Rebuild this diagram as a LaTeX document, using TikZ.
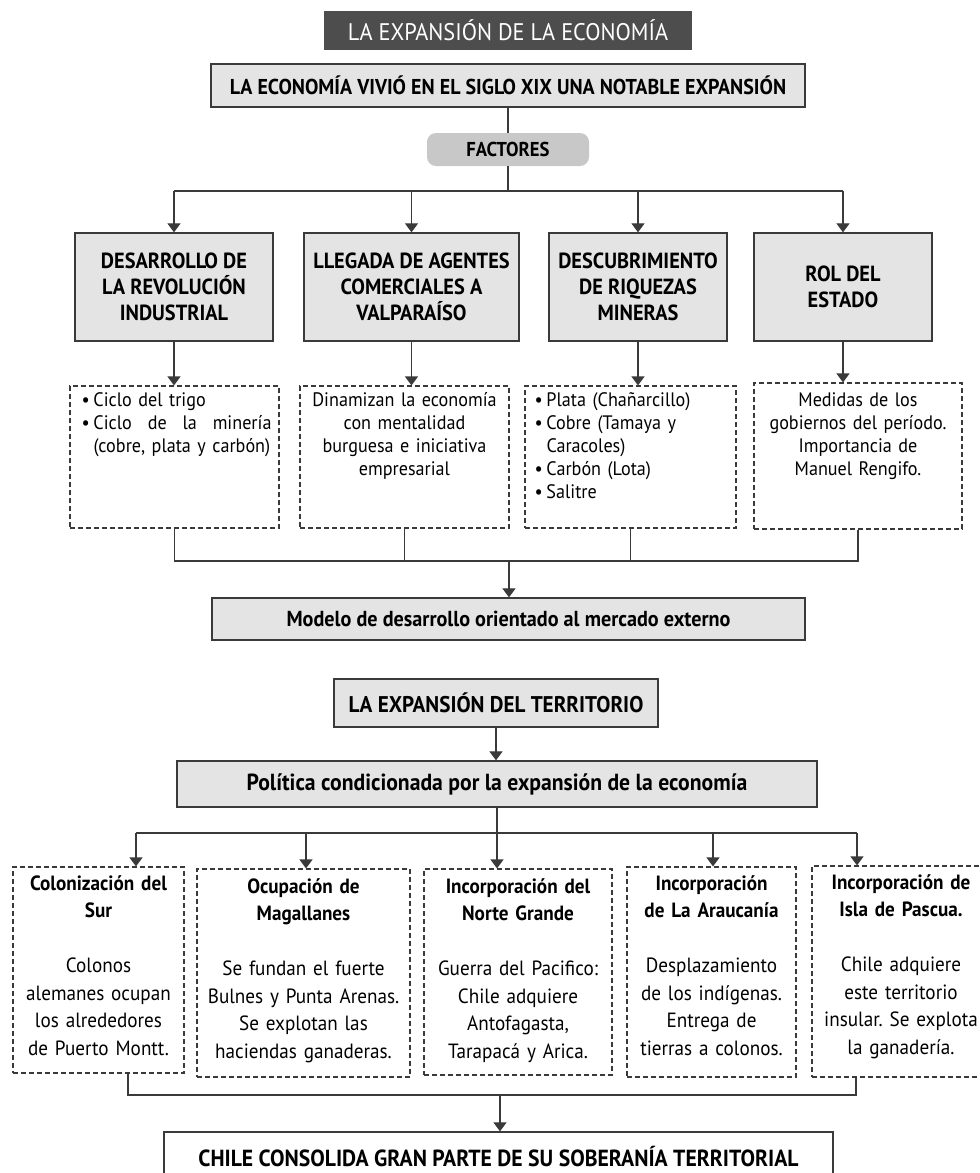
\documentclass[tikz,border=0pt]{standalone}
\usepackage{fontspec}
\setmainfont[FakeStretch=0.93]{PT Sans}
\usetikzlibrary{arrows.meta}
\definecolor{linec}{HTML}{3A3A3A}
\definecolor{titlefill}{HTML}{4D4D4D}
\definecolor{boxgray}{HTML}{E4E4E4}
\definecolor{factgray}{HTML}{C8C8C8}
\newcommand\bul{\makebox[12pt][l]{•}}
\frenchspacing
\begin{document}
\begin{tikzpicture}[x=1pt,y=-1pt,
  lc/.style={draw=linec, line width=1.2pt},
  arr/.style={draw=linec, line width=1.2pt, -{Triangle[width=13pt,length=9pt]}},
  gbox/.style={draw=linec, line width=1.3pt, fill=boxgray, inner sep=0pt, align=center, text=black},
  dbox/.style={draw=linec, line width=1.15pt, dash pattern=on 5pt off 3pt, inner sep=0pt},
  ftxt/.style={font=\bfseries\fontsize{21.9}{26}\selectfont},
  dtxt/.style={inner sep=0pt, anchor=north, font=\fontsize{19.5}{23}\selectfont},
  btxt/.style={inner sep=0pt, anchor=north, align=center, font=\fontsize{20.6}{27.5}\selectfont}
]
\useasboundingbox (0,0) rectangle (980,1173);
\fill[white] (0,0) rectangle (980,1173);

% ---------- economy ----------
\node[fill=titlefill, minimum width=368pt, minimum height=39pt, inner sep=0pt, text=white,
      font=\fontsize{24}{28}\selectfont] (title) at (508,30.5) {LA EXPANSIÓN DE LA ECONOMÍA};
\node[gbox, minimum width=594pt, minimum height=43pt, font=\bfseries\fontsize{21.5}{25}\selectfont]
      (econ) at (508,85.5) {LA ECONOMÍA VIVIÓ EN EL SIGLO XIX UNA NOTABLE EXPANSIÓN};
\node[fill=factgray, rounded corners=9pt, minimum width=162pt, minimum height=33pt, inner sep=0pt,
      font=\bfseries\fontsize{20.1}{24}\selectfont] (fact) at (508,149.5) {FACTORES};
\coordinate (h0) at (508,191);

\node[gbox, ftxt, minimum width=198pt, minimum height=108pt] (f1) at (174,287) {DESARROLLO DE\\LA REVOLUCIÓN\\INDUSTRIAL};
\node[gbox, ftxt, minimum width=215pt, minimum height=108pt] (f2) at (411.5,287) {LLEGADA DE AGENTES\\COMERCIALES A\\VALPARAÍSO};
\node[gbox, ftxt, minimum width=178pt, minimum height=108pt] (f3) at (638,287) {DESCUBRIMIENTO\\DE RIQUEZAS\\MINERAS};
\node[gbox, ftxt, minimum width=178pt, minimum height=108pt] (f4) at (843,287) {ROL DEL\\ESTADO};

\node[dbox, minimum width=209pt, minimum height=142pt] (d1) at (174.5,457) {};
\node[dbox, minimum width=209pt, minimum height=142pt] (d2) at (404.5,457) {};
\node[dbox, minimum width=211pt, minimum height=142pt] (d3) at (630.5,457) {};
\node[dbox, minimum width=208pt, minimum height=146pt] (d4) at (858,456) {};

\node[dtxt, text width=190pt, align=left] (t1) at ([xshift=2pt,yshift=-7pt]d1.north)
  {\bul Ciclo del trigo\\
   \bul Ciclo\hfill de\hfill la\hfill minería\\
   \hspace*{12pt}(cobre, plata y carbón)};
\node[dtxt, text width=205pt, align=center] (t2) at ([yshift=-7pt]d2.north)
  {Dinamizan la economía\\con mentalidad\\burguesa e iniciativa\\empresarial};
\node[dtxt, text width=192pt, align=left] (t3) at ([xshift=0pt,yshift=-7pt]d3.north)
  {\bul Plata (Chañarcillo)\\
   \bul Cobre (Tamaya y\\
   \hspace*{12pt}Caracoles)\\
   \bul Carbón (Lota)\\
   \bul Salitre};
\node[dtxt, text width=205pt, align=center] (t4) at ([yshift=-10pt]d4.north)
  {Medidas de los\\gobiernos del período.\\Importancia de\\Manuel Rengifo.};

\node[gbox, minimum width=593pt, minimum height=42pt, font=\bfseries\fontsize{21.7}{25}\selectfont]
      (model) at (508.5,619) {Modelo de desarrollo orientado al mercado externo};
\coordinate (h1) at (509,561);

\draw[lc] (econ) -- (fact);
\draw[lc] (fact) -- (h0);
\draw[lc] (f1.north |- h0) -- (f4.north |- h0);
\foreach \n in {f1,f2,f3,f4} \draw[arr] (\n.north |- h0) -- (\n.north);
\foreach \a/\b in {f1/d1,f2/d2,f3/d3,f4/d4} \draw[arr] (\a.south) -- (\a.south |- \b.north);
\draw[lc] (d1.south) -- (d1.south |- h1) -- (d4.south |- h1) -- (d4.south);
\draw[lc] (d2.south) -- (d2.south |- h1);
\draw[lc] (d3.south) -- (d3.south |- h1);
\draw[arr] (h1) -- (h1 |- model.north);

% ---------- territory ----------
\node[gbox, minimum width=324pt, minimum height=48pt, font=\bfseries\fontsize{22.7}{26}\selectfont]
      (terr) at (496,703) {LA EXPANSIÓN DEL TERRITORIO};
\node[gbox, minimum width=640pt, minimum height=46pt, font=\bfseries\fontsize{23.3}{27}\selectfont]
      (pol) at (497,784) {Política condicionada por la expansión de la economía};
\draw[arr] (terr.south) -- (terr.south |- pol.north);

\coordinate (h2) at (497,833);
\coordinate (j1) at (136,833);
\coordinate (j2) at (306,833);
\coordinate (j4) at (713,833);
\coordinate (j5) at (857,833);

\node[dbox, minimum width=171pt, minimum height=206pt] (b1) at (98.5,970) {};
\node[dbox, minimum width=213pt, minimum height=208pt] (b2) at (303.5,973) {};
\node[dbox, minimum width=188pt, minimum height=206pt] (b3) at (518,972) {};
\node[dbox, minimum width=169pt, minimum height=210pt] (b4) at (711.5,972) {};
\node[dbox, minimum width=178pt, minimum height=211pt] (b5) at (901,971.5) {};

\draw[lc] (pol.south) -- (h2);
\draw[lc] (j1) -- (j5);
\draw[arr] (j1) -- (j1 |- b1.north);
\draw[arr] (j2) -- (j2 |- b2.north);
\draw[arr] (h2) -- (h2 |- b3.north);
\draw[arr] (j4) -- (j4 |- b4.north);
\draw[arr] (j5) -- (j5 |- b5.north);

\node[btxt, text width=170pt] (u1) at ([yshift=-9pt]b1.north)
  {\textbf{Colonización del}\\\textbf{Sur}\\[27.5pt]Colonos\\alemanes ocupan\\los alrededores\\de Puerto Montt.};
\node[btxt, text width=212pt] (u2) at ([yshift=-10pt]b2.north)
  {\textbf{Ocupación de}\\\textbf{Magallanes}\\[27.5pt]Se fundan el fuerte\\Bulnes y Punta Arenas.\\Se explotan las\\haciendas ganaderas.};
\node[btxt, text width=186pt] (u3) at ([yshift=-10pt]b3.north)
  {\textbf{Incorporación del}\\\textbf{Norte Grande}\\[27.5pt]Guerra del Pacifico:\\Chile adquiere\\Antofagasta,\\Tarapacá y Arica.};
\node[btxt, text width=168pt] (u4) at ([yshift=-9pt]b4.north)
  {\textbf{Incorporación}\\\textbf{de La Araucanía}\\[27.5pt]Desplazamiento\\de los indígenas.\\Entrega de\\tierras a colonos.};
\node[btxt, text width=178pt] (u5) at ([yshift=-9pt]b5.north)
  {\textbf{Incorporación de}\\\textbf{Isla de Pascua.}\\[27.5pt]Chile adquiere\\este territorio\\insular. Se explota\\la ganadería.};

\coordinate (s1) at (128,1095);
\coordinate (s5) at (856,1095);
\coordinate (h3) at (500,1095);
\node[draw=linec, line width=1.3pt, fill=white, minimum width=669pt, minimum height=50pt, inner sep=0pt,
      font=\bfseries\fontsize{23.3}{27}\selectfont] (final) at (498.5,1157)
      {CHILE CONSOLIDA GRAN PARTE DE SU SOBERANÍA TERRITORIAL};
\draw[lc] (s1 |- b1.south) -- (s1) -- (s5) -- (s5 |- b5.south);
\draw[arr] (h3) -- (h3 |- final.north);
\end{tikzpicture}
\end{document}
